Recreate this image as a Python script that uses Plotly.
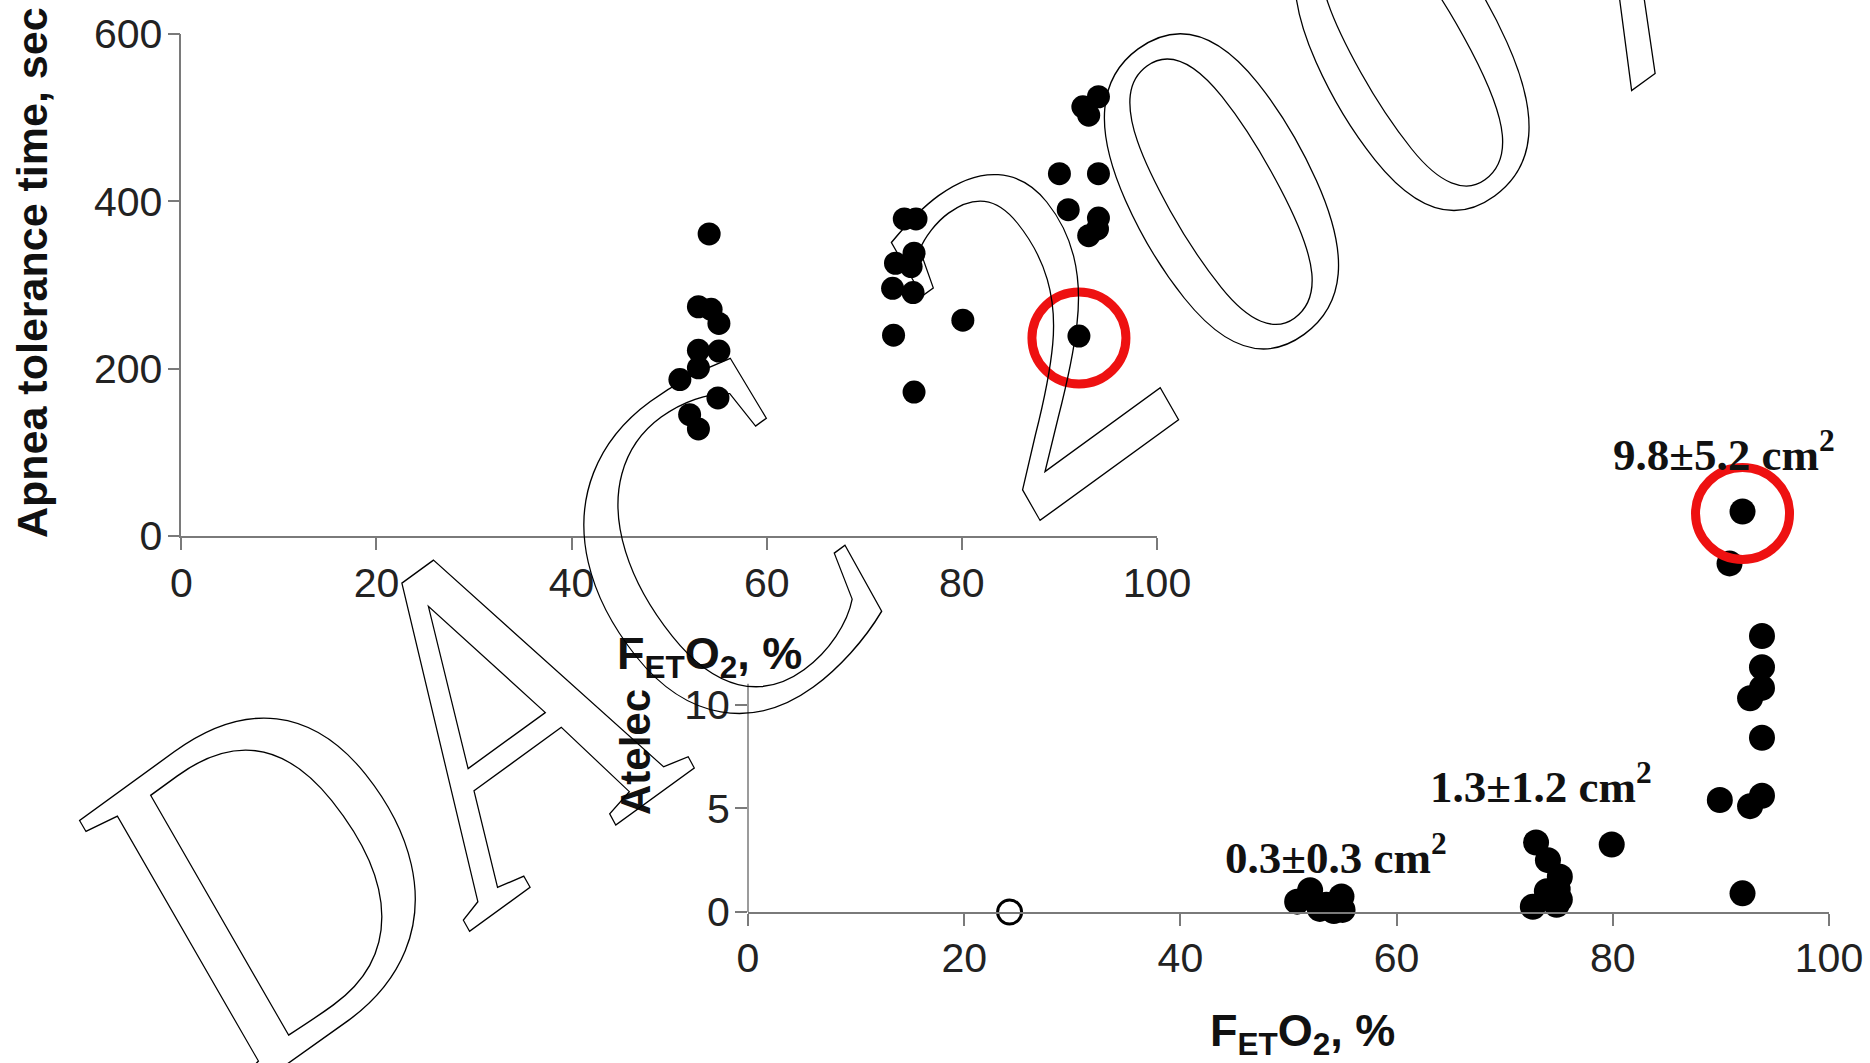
import plotly.graph_objects as go

# ---------------- data ----------------
apnea_feto2 = [54.1, 53.0, 54.3, 55.1, 53.0, 55.1, 53.0, 51.1, 55.0, 52.1, 53.0,
               74.1, 75.3, 73.2, 75.1, 74.8, 72.9, 75.0, 73.0, 75.1, 80.1,
               94.0, 92.4, 93.0, 90.0, 94.0, 90.9, 94.0, 93.9, 93.0, 92.0]
apnea_time = [361, 274, 271, 254, 222, 221, 201, 187, 165, 145, 128,
              379, 379, 326, 338, 322, 296, 291, 240, 172, 258,
              525, 513, 503, 433, 433, 390, 380, 367, 359, 239]

atelec_feto2 = [50.8, 52.0, 52.9, 53.5, 54.2, 54.9, 55.0,
                72.9, 74.0, 75.1, 73.9, 74.9, 72.6, 74.8, 75.1, 79.9,
                92.0, 90.8, 93.8, 93.8, 93.8, 92.7, 93.8, 89.9, 93.8, 92.7, 92.0]
atelec_area = [0.5, 1.05, 0.15, 0.35, 0.05, 0.75, 0.1,
               3.35, 2.5, 1.7, 1.0, 1.1, 0.25, 0.35, 0.6, 3.25,
               19.3, 16.8, 13.3, 11.8, 10.8, 10.3, 8.4, 5.4, 5.6, 5.1, 0.9]

room_air_feto2 = [24.2]
room_air_area = [0]

# highlighted points (red rings)
highlight_top = (92.0, 239)
highlight_bottom = (92.0, 19.3)

group_labels = ["0.3±0.3 cm<sup>2</sup>", "1.3±1.2 cm<sup>2</sup>", "9.8±5.2 cm<sup>2</sup>"]
group_label_x = [54.4, 73.4, 90.3]
group_label_y = [2.75, 6.2, 22.2]

x_ticks = [0, 20, 40, 60, 80, 100]
apnea_ticks = [0, 200, 400, 600]
atelec_ticks = [0, 5, 10]
atelec_axis_top = 11   # visible part of the atelectasis axis line

watermark_parts = ["DAC", "2007"]

W, H = 1870, 1063
def px(v): return v / W
def py(v): return 1 - v / H

SANS = "Liberation Sans, Arial, sans-serif"
SERIF = "Liberation Serif, Times New Roman, serif"
AX = "#7a7a7a"

fig = go.Figure()
fig.add_trace(go.Scatter(x=apnea_feto2, y=apnea_time, mode="markers",
                         marker=dict(size=23, color="black"),
                         xaxis="x", yaxis="y", cliponaxis=False))
fig.add_trace(go.Scatter(x=atelec_feto2, y=atelec_area, mode="markers",
                         marker=dict(size=26, color="black"),
                         xaxis="x2", yaxis="y2", cliponaxis=False))
fig.add_trace(go.Scatter(x=room_air_feto2, y=room_air_area, mode="markers",
                         marker=dict(size=24, symbol="circle-open", color="black",
                                     line=dict(width=3, color="black")),
                         xaxis="x2", yaxis="y2", cliponaxis=False))

axis_common = dict(showgrid=False, zeroline=False, linecolor=AX,
                   linewidth=1.5, ticks="outside", ticklen=12, tickcolor=AX,
                   tickwidth=1.5, tickfont=dict(family=SANS, size=41, color="#222"))

fig.update_layout(
    width=W, height=H, margin=dict(l=0, r=0, t=0, b=0, autoexpand=False),
    paper_bgcolor="white", plot_bgcolor="rgba(0,0,0,0)", showlegend=False,
    xaxis=dict(domain=[px(181.3), px(1157)], range=[0, 100], tickvals=x_ticks,
               anchor="y", showline=True, ticklabelstandoff=-2, **axis_common),
    yaxis=dict(domain=[py(536), py(34)], range=[0, 600], tickvals=apnea_ticks,
               anchor="x", showline=True, ticklabelstandoff=-3, **axis_common),
    xaxis2=dict(domain=[px(748), px(1829)], range=[0, 100], tickvals=x_ticks,
                anchor="y2", showline=True, ticklabelstandoff=-3, **axis_common),
    yaxis2=dict(domain=[py(912), py(414)], range=[0, 24], tickvals=atelec_ticks,
                anchor="x2", showline=False, ticklabelstandoff=-3, **axis_common),
)

# visible portion of the atelectasis y-axis line
fig.add_shape(type="line", xref="x2 domain", yref="y2", x0=0, x1=0, y0=0,
              y1=atelec_axis_top, line=dict(color=AX, width=1.5), layer="below")

# red highlight rings
for (hx, hy), xr, yr in [(highlight_top, "x", "y"), (highlight_bottom, "x2", "y2")]:
    fig.add_shape(type="circle", xref=xr, yref=yr, xsizemode="pixel", ysizemode="pixel",
                  xanchor=hx, yanchor=hy, x0=-47, x1=47, y0=-48, y1=44,
                  line=dict(color="#ee1111", width=9), layer="above")

# group labels
for t, gx, gy in zip(group_labels, group_label_x, group_label_y):
    fig.add_annotation(text=t, x=gx, y=gy, xref="x2", yref="y2", showarrow=False,
                       xanchor="center", yanchor="middle",
                       font=dict(family=SERIF, size=45, color="#111", weight="bold"))

# axis titles
title_font = dict(family=SANS, color="#111", weight="bold")
fig.add_annotation(text="Apnea tolerance time, sec", x=px(32), y=py(273), xref="paper",
                   yref="paper", textangle=-90, showarrow=False, xanchor="center",
                   yanchor="middle", font=dict(size=43, **title_font))
fig.add_annotation(text="F<sub>ET</sub>O<sub>2</sub>, %", x=px(709), y=py(656), xref="paper",
                   yref="paper", showarrow=False, xanchor="center", yanchor="middle",
                   font=dict(size=45, **title_font))
fig.add_annotation(text="F<sub>ET</sub>O<sub>2</sub>, %", x=px(1302), y=py(1033), xref="paper",
                   yref="paper", showarrow=False, xanchor="center", yanchor="middle",
                   font=dict(size=45, **title_font))
fig.add_annotation(text="Atelec", x=px(635), y=py(752), xref="paper", yref="paper",
                   textangle=-90, showarrow=False, xanchor="center", yanchor="middle",
                   font=dict(size=42, **title_font))

# outlined watermark (two words)
for word, (cx, cy) in zip(watermark_parts, [(480, 720), (1326, 109)]):
    fig.add_annotation(text=word, x=px(cx), y=py(cy), xref="paper", yref="paper",
                       textangle=-36, showarrow=False, xanchor="center", yanchor="middle",
                       font=dict(family=SERIF, size=455, color="rgba(0,0,0,0)",
                                 style="italic"))

post = """
var gd = document.getElementById('{plot_id}');
function outlineWM(){
  gd.querySelectorAll('.annotation-text').forEach(function(t){
    var s = t.textContent;
    if (s === 'DAC' || s === '2007') {
      t.style.fill = 'none';
      t.style.stroke = '#000';
      t.style.strokeWidth = '1.3px';
      if (s === '2007') { t.style.letterSpacing = '23px'; }
      t.removeAttribute('transform');
      var b = t.getBBox();
      var cx = b.x + b.width / 2, cy = b.y + b.height / 2;
      var sx = (s === 'DAC') ? 0.92 : 0.94;
      t.setAttribute('transform', 'translate(' + cx + ',' + cy + ') scale(' + sx + ',1.07) skewX(3) translate(' + (-cx) + ',' + (-cy) + ')');
    }
  });
}
outlineWM();
gd.on('plotly_afterplot', outlineWM);
"""

fig.write_html("out.html", post_script=post)
